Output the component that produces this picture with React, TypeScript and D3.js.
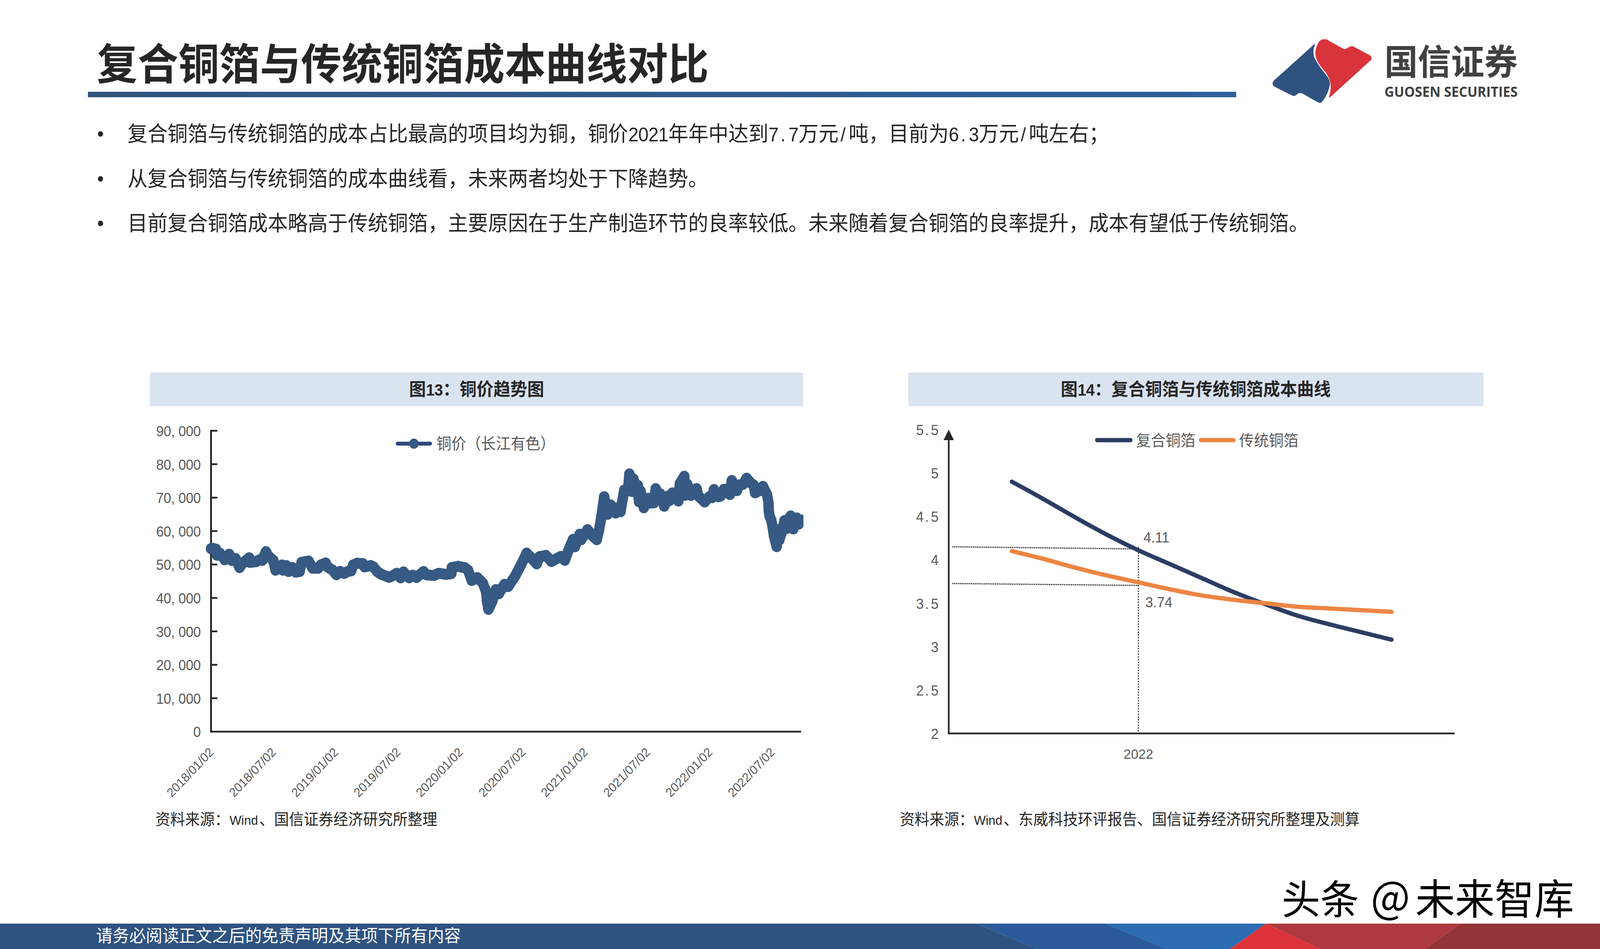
import React from "react";
import * as d3 from "d3";

// ---------- Chart data ----------
const PAGE_TITLE = "复合铜箔与传统铜箔成本曲线对比";
const BULLETS = [
  "复合铜箔与传统铜箔的成本占比最高的项目均为铜，铜价2021年年中达到7.7万元/吨，目前为6.3万元/吨左右；",
  "从复合铜箔与传统铜箔的成本曲线看，未来两者均处于下降趋势。",
  "目前复合铜箔成本略高于传统铜箔，主要原因在于生产制造环节的良率较低。未来随着复合铜箔的良率提升，成本有望低于传统铜箔。",
];

const priceTicks = [0, 10000, 20000, 30000, 40000, 50000, 60000, 70000, 80000, 90000];
const dateLabels = ["2018/01/02","2018/07/02","2019/01/02","2019/07/02","2020/01/02","2020/07/02","2021/01/02","2021/07/02","2022/01/02","2022/07/02"];
const dateLabelSamples = [0,168,336,504,672,841,1009,1177,1345,1513];

// sample position along the time axis
const priceSamples = [
  0,6,13,16,24,37,49,56,66,77,84,103,104,121,131,138,148,154,168,174,191,194,203,209,219,228,239,244,263,268,274,289,296,309,314,328,338,348,359,369,378,383,394,409,414,431,438,448,458,480,488,501,511,519,534,544,554,573,581,601,614,634,648,649,666,684,693,703,718,733,741,743,744,748,758,768,776,791,801,819,834,851,861,878,886,903,918,943,954,964,976,981,994,998,1015,1028,1040,1046,1051,1057,1060,1069,1078,1091,1097,1104,1114,1124,1128,1136,1139,1148,1151,1154,1158,1167,1169,1179,1181,1194,1199,1204,1211,1222,1232,1236,1244,1260,1264,1276,1278,1284,1294,1298,1309,1314,1331,1344,1351,1356,1368,1374,1383,1391,1399,1404,1411,1418,1424,1434,1444,1455,1463,1467,1478,1488,1499,1503,1504,1506,1511,1516,1518,1525,1528,1532,1534,1541,1546,1552,1556,1563,1570,1579,1585,1591,
];
const priceValues = [
  54730,54810,54610,52780,53370,51420,53055,51225,51810,49080,50250,52000,50640,50830,51420,51225,53830,52590,51225,48300,49860,48300,49670,47915,49080,47720,47915,50640,51030,50060,48890,48890,49860,50450,49280,48300,46940,47915,47330,47915,48110,49860,50370,50250,49280,49670,49280,47915,47135,46160,46550,47370,46010,47760,46010,46790,46120,47880,46900,46710,47370,47020,47290,49080,49430,49045,48300,45230,46085,44410,42074,40905,39115,36585,38920,42500,41255,44060,43400,46360,49510,53405,52240,50210,52355,52705,50910,52430,51265,54340,57495,55300,59050,57400,60415,58625,57415,60220,63300,67775,70270,65010,67775,65400,67000,65790,72255,72000,77085,71825,75565,71440,73660,68750,72000,66960,69335,69765,68360,68440,72685,69335,71125,67425,70500,69100,71400,68985,74165,76385,70700,74000,70660,72140,72685,70500,68710,70310,70000,72410,70270,70500,72490,72450,70930,75100,73400,72100,73800,73970,75800,74400,73735,71440,72060,73345,70890,68555,65830,64465,63105,59990,58430,55355,60380,57265,58040,60380,63105,60770,63500,64505,60650,63920,62130,63300,
];

const costTicks = [2, 2.5, 3, 3.5, 4, 4.5, 5, 5.5];
const costYears = [2021,2021.25,2021.5,2021.75,2022,2022.25,2022.5,2022.75,2023,2023.25,2023.5,2023.75,2024];
const compositeCost = [4.9,4.7,4.49,4.29,4.11,3.95,3.79,3.63,3.49,3.36,3.26,3.17,3.08];
const traditionalCost = [4.1,4.01,3.91,3.82,3.74,3.66,3.59,3.54,3.5,3.46,3.44,3.42,3.4];
const guideCompositeValues = [4.15, 4.125];
const guideTraditionalValues = [3.727, 3.705];
const guideYear = 2022;

// ---------- Layout ----------
const CJK = '"Noto Sans CJK SC", sans-serif';
const LAT = '"Liberation Sans", sans-serif';
const GREY = "#595959";
const INK = "#262626";
const AXIS = "#262626";

const xPrice = d3.scaleLinear().domain([0, 1591]).range([569, 2160]);
const yPrice = d3.scaleLinear().domain([0, 90000]).range([1873.5, 1103]);
const xCost = d3.scaleLinear().domain([2021, 2024]).range([2728, 3752]);
const yCost = d3.scaleLinear().domain([2, 5.5]).range([1878, 1100]);

const priceLine = d3.line<number>()
  .x((d) => xPrice(d))
  .y((_, i) => yPrice(priceValues[i]))(priceSamples) as string;
const costLine = (vals: number[]) =>
  d3.line<number>()
    .x((d) => xCost(d))
    .y((_, i) => yCost(vals[i]))
    .curve(d3.curveMonotoneX)(costYears) as string;

// Half-width-Latin text: CJK glyphs take one em, Latin glyphs half an em.
function Cell({ x, y, size, text, fill = INK, weight = 400, anchor = "start" }: {
  x: number; y: number; size: number; text: string; fill?: string; weight?: number; anchor?: string;
}) {
  const tokens = text.match(/[\u2E80-\uFFFF]+|[A-Za-z]+|[^A-Za-z\u2E80-\uFFFF]+/g) || [];
  const units = (t: string) => (/[\u2E80-\uFFFF]/.test(t) ? t.length : t.length * 0.5);
  const total = tokens.reduce((s, t) => s + units(t) * size, 0);
  let cur = anchor === "end" ? x - total : anchor === "middle" ? x - total / 2 : x;
  const spans = tokens.map((t, i) => {
    const start = cur;
    cur += units(t) * size;
    if (/[\u2E80-\uFFFF]/.test(t)) {
      return <tspan key={i} x={start} fontFamily={CJK} fontSize={size}>{t}</tspan>;
    }
    if (/[A-Za-z]/.test(t)) {
      return <tspan key={i} x={start} fontFamily={LAT} fontSize={size * 0.84}>{t}</tspan>;
    }
    const xs = Array.from(t).map((c, j) => start + j * size * 0.5 + (c === "/" || c === "." ? size * 0.1 : 0)).join(" ");
    return <tspan key={i} x={xs} fontFamily={LAT} fontSize={size * 0.92}>{t}</tspan>;
  });
  return <text y={y} fill={fill} fontWeight={weight} style={{ whiteSpace: "pre" }}>{spans}</text>;
}

const fmtK = d3.format(",");

function Logo() {
  return (
    <g>
      <path fill="#2f5380" stroke="#2f5380" strokeWidth={3} strokeLinejoin="round"
        d="M3544 115 L3435 208 Q3430 215 3436 220 L3484 243 Q3490 246 3494 242 L3501 237 L3510 237 L3553 260 Q3560 264 3564 259 Q3580 240 3584 217 C3586 200 3570 190 3560 175 C3545 155 3533 140 3544 115 Z" />
      <path fill="#d9343b" stroke="#d9343b" strokeWidth={3} strokeLinejoin="round"
        d="M3570 102 Q3577 101 3581 105 L3619 125 Q3625 129 3630 126 L3642 120 Q3646 119 3650 121 L3693 143 Q3698 147 3696 152 L3585 248 C3596 215 3585 195 3570 178 C3548 155 3540 135 3558 107 Q3563 102 3570 102 Z" />
      <text x={3733} y={191} fontFamily={CJK} fontSize={90} fontWeight={700} fill="#404040" textLength={359} lengthAdjust="spacingAndGlyphs">国信证券</text>
      <text x={3733} y={248} fontFamily='"Open Sans", sans-serif' fontSize={36} fontWeight={700} fill="#404040" textLength={359} lengthAdjust="spacingAndGlyphs">GUOSEN SECURITIES</text>
    </g>
  );
}

function Footer() {
  const top = 2365, bot = 2430;
  const polys: [string, number[][]][] = [
    ["#2f5381", [[0, top], [2632, top], [2797, bot], [0, bot]]],
    ["#2a5a9a", [[2632, top], [2980, top], [3147, bot], [2797, bot]]],
    ["#2b6cb3", [[2980, top], [3413, top], [3316, bot], [3147, bot]]],
    ["#923438", [[3938, top], [4314, top], [4314, bot], [3841, bot]]],
    ["#ae3a40", [[3413, top], [3938, top], [3841, bot], [3560, bot]]],
    ["#dd3338", [[3413, top], [3560, bot], [3316, bot]]],
  ];
  return (
    <g>
      {polys.map(([c, p], i) => (
        <polygon key={i} fill={c} points={p.map((q) => q.join(",")).join(" ")} />
      ))}
      <text x={259} y={2412} fontFamily={CJK} fontSize={44.7} fill="#ffffff">请务必阅读正文之后的免责声明及其项下所有内容</text>
    </g>
  );
}

function PriceChart() {
  return (
    <g>
      <rect x={404} y={954} width={1761} height={86} fill="#dae3f0" />
      <Cell x={1285} y={1013} size={45.5} weight={700} anchor="middle" text="图13：铜价趋势图" />
      <line x1={569} x2={569} y1={yPrice(90000) - 2} y2={yPrice(0) + 2} stroke={AXIS} strokeWidth={5} />
      <line x1={567} x2={2160} y1={yPrice(0)} y2={yPrice(0)} stroke={AXIS} strokeWidth={4.5} />
      {priceTicks.map((t) => (
        <g key={t}>
          {t > 0 && <line x1={569} x2={586} y1={yPrice(t)} y2={yPrice(t)} stroke={AXIS} strokeWidth={4.5} />}
          <Cell x={541} y={yPrice(t) + 14} size={40} fill={GREY} anchor="end" text={fmtK(t)} />
        </g>
      ))}
      {dateLabels.map((d, i) => (
        <text key={d} transform={`translate(${xPrice(dateLabelSamples[i]) + 9},1928) rotate(-45)`}
          textAnchor="end" fontFamily={LAT} fontSize={32.5} fill={GREY}>{d}</text>
      ))}
      <clipPath id="priceClip"><rect x={540} y={1000} width={1626} height={900} /></clipPath>
      <g clipPath="url(#priceClip)">
        <path d={priceLine} fill="none" stroke="#365a83" strokeWidth={28} strokeLinejoin="round" strokeLinecap="round" />
        {priceSamples.map((s, i) => (
          <circle key={i} cx={xPrice(s)} cy={yPrice(priceValues[i])} r={14} fill="#365a83" />
        ))}
      </g>
      <line x1={1072} x2={1160} y1={1136} y2={1136} stroke="#2e4a7d" strokeWidth={10} strokeLinecap="round" />
      <circle cx={1116} cy={1136} r={13} fill="#365a83" />
      <text x={1177} y={1150} fontFamily={CJK} fontSize={40} fill={GREY}>铜价（长江有色）</text>
      <Cell x={419} y={2112} size={40} text="资料来源：Wind、国信证券经济研究所整理" />
    </g>
  );
}

function CostChart() {
  const gx = xCost(guideYear);
  return (
    <g>
      <rect x={2449} y={954} width={1551} height={86} fill="#dae3f0" />
      <Cell x={3224} y={1013} size={45.5} weight={700} anchor="middle" text="图14：复合铜箔与传统铜箔成本曲线" />
      <line x1={2558} x2={2558} y1={1120} y2={1880} stroke={AXIS} strokeWidth={4.5} />
      <polygon points="2558,1100 2544,1127 2572,1127" fill={AXIS} />
      <line x1={2556} x2={3922} y1={1878} y2={1878} stroke={AXIS} strokeWidth={4.5} />
      {costTicks.map((t) => (
        <Cell key={t} x={2530} y={yCost(t) + 14} size={40} fill={GREY} anchor="end" text={String(t)} />
      ))}
      <line x1={gx} x2={gx} y1={yCost(guideCompositeValues[0])} y2={1878} stroke="#222" strokeWidth={2.5} strokeDasharray="4 3" />
      <line x1={2568} x2={gx} y1={yCost(guideCompositeValues[0])} y2={yCost(guideCompositeValues[1])} stroke="#222" strokeWidth={3} strokeDasharray="3 2" />
      <line x1={2568} x2={gx} y1={yCost(guideTraditionalValues[0])} y2={yCost(guideTraditionalValues[1])} stroke="#222" strokeWidth={3} strokeDasharray="3 2" />
      <path d={costLine(compositeCost)} fill="none" stroke="#2c3d63" strokeWidth={11} strokeLinecap="round" />
      <path d={costLine(traditionalCost)} fill="none" stroke="#ed8543" strokeWidth={11} strokeLinecap="round" />
      <text x={3083} y={1389} fontFamily={LAT} fontSize={37.5} fill={GREY}>4.11</text>
      <text x={3088} y={1555} fontFamily={LAT} fontSize={37.5} fill={GREY}>3.74</text>
      <text x={gx} y={1943} textAnchor="middle" fontFamily={LAT} fontSize={36} fill={GREY}>2022</text>
      <line x1={2958} x2={3048} y1={1127} y2={1127} stroke="#2c3d63" strokeWidth={11} strokeLinecap="round" />
      <text x={3063} y={1142} fontFamily={CJK} fontSize={40} fill={GREY}>复合铜箔</text>
      <line x1={3238} x2={3326} y1={1127} y2={1127} stroke="#ed8543" strokeWidth={11} strokeLinecap="round" />
      <text x={3341} y={1142} fontFamily={CJK} fontSize={40} fill={GREY}>传统铜箔</text>
      <Cell x={2426} y={2112} size={40} text="资料来源：Wind、东威科技环评报告、国信证券经济研究所整理及测算" />
    </g>
  );
}

export default function App() {
  const bulletYs = [342, 457, 571];
  return (
    <svg viewBox="0 0 4314 2430" preserveAspectRatio="none"
      style={{ position: "absolute", left: 0, top: 0, width: "100vw", height: "100vh", display: "block", background: "#fff" }}>
      <defs>
        <linearGradient id="rule" x1="0" x2="1" y1="0" y2="0">
          <stop offset="0" stopColor="#33547d" />
          <stop offset="1" stopColor="#2c5f9c" />
        </linearGradient>
      </defs>
      <text x={261} y={204} fontFamily={CJK} fontSize={110} fontWeight={700} fill="#262626">{PAGE_TITLE}</text>
      <rect x={237} y={235} width={3096} height={14} fill="url(#rule)" />
      <Logo />
      {BULLETS.map((b, i) => (
        <g key={i}>
          <circle cx={271} cy={bulletYs[i] + 1} r={7} fill={INK} />
          <Cell x={344} y={bulletYs[i] + 20.5} size={54} text={b} />
        </g>
      ))}
      <PriceChart />
      <CostChart />
      <Footer />
      <text x={3456} y={2341} fontFamily={CJK} fontSize={104} fontWeight={400} fill="#000">头条</text>
      <text x={3696} y={2338} fontFamily={CJK} fontSize={112} fontWeight={400} fill="#000">@</text>
      <text x={3816} y={2341} fontFamily={CJK} fontSize={107} fontWeight={400} fill="#000">未来智库</text>
    </svg>
  );
}
